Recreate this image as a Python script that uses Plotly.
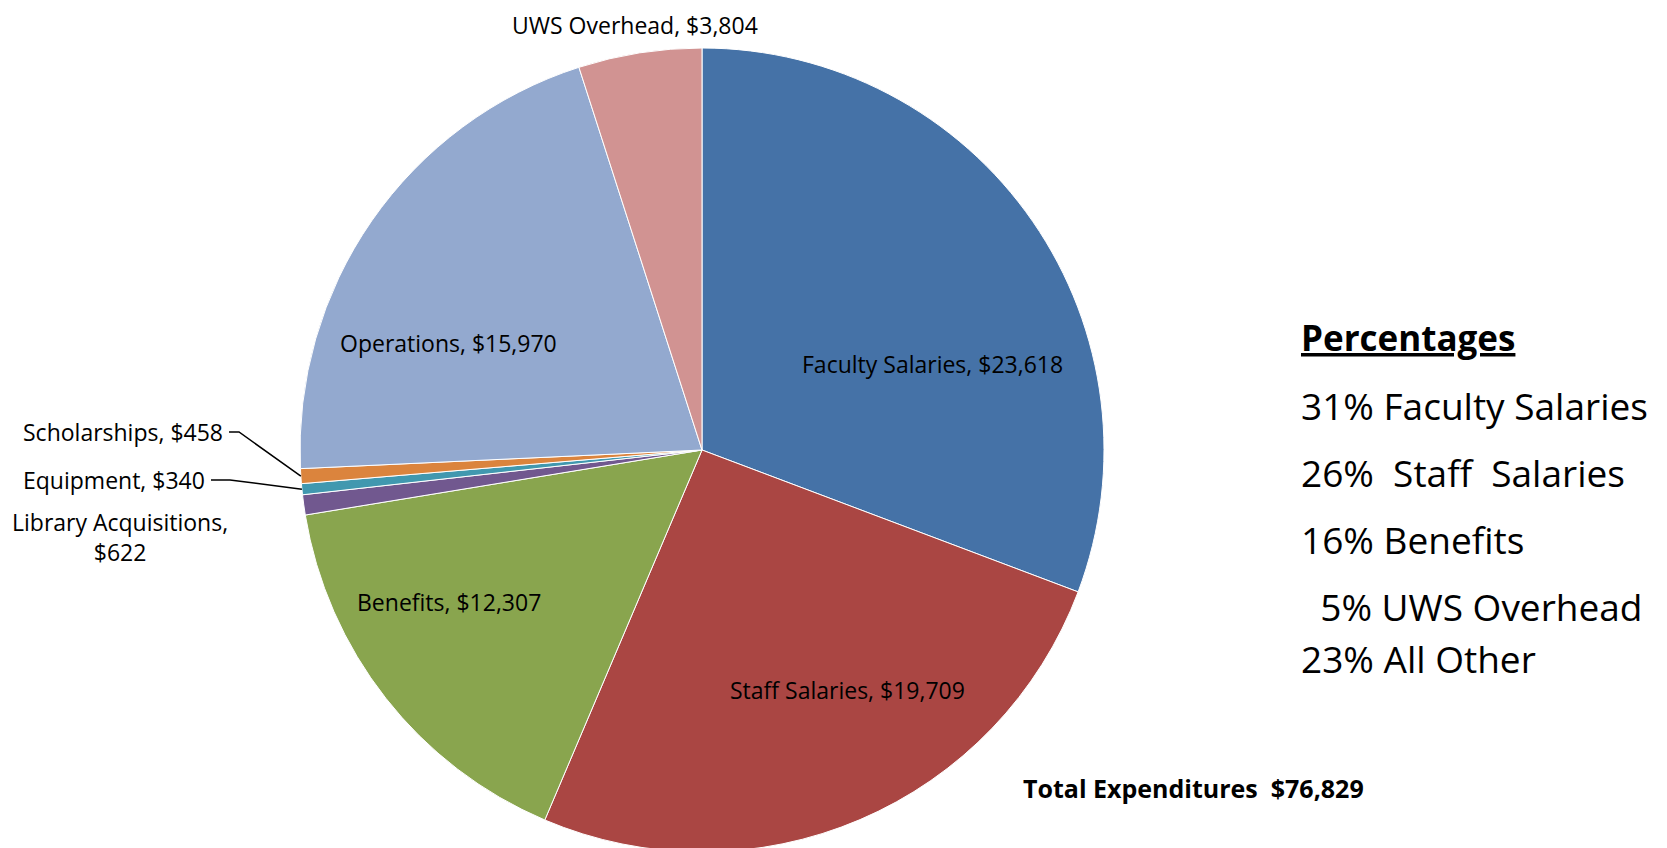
import math
import plotly.graph_objects as go

# expenditure categories, clockwise from 12 o'clock
categories = ['Faculty Salaries', 'Staff Salaries', 'Benefits', 'Library Acquisitions',
              'Equipment', 'Scholarships', 'Operations', 'UWS Overhead']
values = [23618, 19709, 12307, 622, 340, 458, 15970, 3804]
colors = ['#4572A7', '#AA4643', '#89A54E', '#71588F', '#4198AF', '#DB843D', '#93A9CF', '#D19392']

pct_lines = ['31% Faculty Salaries', '26%  Staff  Salaries', '16% Benefits',
             '  5% UWS Overhead', '23% All Other']
total_text = 'Total Expenditures  $76,829'

W, H = 1667, 848
OFF = 8  # page body margin
cx, cy, r = 702 - OFF, 450 - OFF, 402  # pie centre / radius in figure pixels

FONT = 'Open Sans'
LBL = 23

fig = go.Figure(go.Pie(
    labels=categories,
    values=values,
    sort=False,
    direction='clockwise',
    rotation=0,
    marker=dict(colors=colors, line=dict(color='white', width=1)),
    textinfo='none',
    hoverinfo='label+value',
    showlegend=False,
    domain=dict(x=[(cx - r) / W, (cx + r) / W], y=[1 - (cy + r) / H, 1 - (cy - r) / H]),
))


def px(x, y):
    # page pixels -> paper coords
    return (x - OFF) / W, 1 - (y - OFF) / H


def lbl(i):
    return f'{categories[i]}, ${values[i]:,}'


annos = []
label_pos = {0: (932, 364), 1: (847, 690), 2: (449, 602), 6: (448, 343)}
for i, (x, y) in label_pos.items():
    xx, yy = px(x, y)
    annos.append(dict(x=xx, y=yy, text=lbl(i), showarrow=False, xanchor='center', yanchor='middle',
                      font=dict(size=LBL, color='black', family=FONT)))

# UWS overhead label sits at the very top edge
xx, _ = px(635, 0)
annos.append(dict(x=xx, y=1, text=lbl(7), showarrow=False, xanchor='center', yanchor='top',
                  borderpad=0, font=dict(size=LBL, color='black', family=FONT)))

total = sum(values)


def slice_edge(i):
    before = sum(values[:i])
    frac = (before + values[i] / 2) / total
    a = 2 * math.pi * frac
    return cx + OFF + r * math.sin(a), cy + OFF - r * math.cos(a)


# small slices with leader lines: (text right x, y, elbow x)
leaders = {5: (225, 432, 239), 4: (207, 480, 230)}
shapes = []
for i, (tx, ty, kx) in leaders.items():
    xx, yy = px(tx, ty)
    annos.append(dict(x=xx, y=yy, text=lbl(i), showarrow=False, xanchor='right', yanchor='middle',
                      font=dict(size=LBL, color='black', family=FONT)))
    ex, ey = slice_edge(i)
    p0 = px(tx + 4, ty)
    p1 = px(kx, ty)
    p2 = px(ex, ey)
    shapes.append(dict(type='path', xref='paper', yref='paper',
                       path=f'M {p0[0]},{p0[1]} L {p1[0]},{p1[1]} L {p2[0]},{p2[1]}',
                       line=dict(color='black', width=1.5)))

xx, yy = px(120, 537)
annos.append(dict(x=xx, y=yy, text='Library Acquisitions,<br>$622', showarrow=False,
                  xanchor='center', yanchor='middle', align='center',
                  font=dict(size=LBL, color='black', family=FONT)))

# percentages block
xx, yy = px(1299, 338)
annos.append(dict(x=xx, y=yy, text='<b><u>Percentages</u></b>', showarrow=False,
                  xanchor='left', yanchor='middle', font=dict(size=35, color='black', family=FONT)))
line_y = [405, 472, 539, 606, 658]
for t, y in zip(pct_lines, line_y):
    xx, yy = px(1299, y)
    annos.append(dict(x=xx, y=yy, text=t.replace(' ', '&nbsp;'), showarrow=False,
                      xanchor='left', yanchor='middle',
                      font=dict(size=37, color='black', family=FONT)))

xx, yy = px(1021, 788)
annos.append(dict(x=xx, y=yy, text=f'<b>{total_text.replace(" ", "&nbsp;")}</b>', showarrow=False,
                  xanchor='left', yanchor='middle', font=dict(size=25, color='black', family=FONT)))

fig.update_layout(
    width=W, height=H,
    margin=dict(l=0, r=0, t=0, b=0),
    paper_bgcolor='white',
    plot_bgcolor='white',
    annotations=annos,
    shapes=shapes,
)

fig.write_html('out.html')
